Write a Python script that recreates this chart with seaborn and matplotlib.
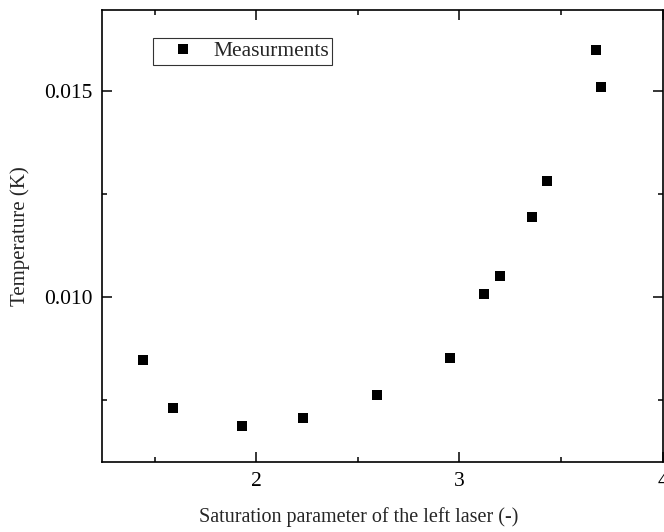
import matplotlib
matplotlib.use("Agg")
import matplotlib.pyplot as plt
from matplotlib.ticker import MultipleLocator, FormatStrFormatter
import seaborn as sns
import pandas as pd

saturation = [1.443, 1.591, 1.931, 2.232, 2.596, 2.956, 3.123, 3.202, 3.360, 3.433, 3.675, 3.695]
temperature = [0.008483, 0.007321, 0.006885, 0.007079, 0.007636, 0.008531,
               0.010080, 0.010515, 0.011943, 0.012815, 0.015985, 0.015089]
series_name = "Measurments"
x_label = "Saturation parameter of the left laser (-)"
y_label = "Temperature (K)"

df = pd.DataFrame({"x": saturation, "y": temperature, "series": series_name})

sns.set_style("white")
plt.rcParams["font.family"] = ["Liberation Serif", "DejaVu Serif"]

fig = plt.figure(figsize=(6.64, 5.32), dpi=100)
ax = fig.add_axes([102 / 664, 1 - 462 / 532, (662.5 - 102) / 664, (462 - 10) / 532])

sns.scatterplot(data=df, x="x", y="y", hue="series", palette=["black"],
                marker="s", s=52, edgecolor="black", linewidth=0, ax=ax)

ax.set_xlim(1.241, 4.0)
ax.set_ylim(0.006007, 0.016953)
ax.xaxis.set_major_locator(MultipleLocator(1))
ax.xaxis.set_minor_locator(MultipleLocator(0.5))
ax.yaxis.set_major_locator(MultipleLocator(0.005))
ax.yaxis.set_minor_locator(MultipleLocator(0.0025))
ax.yaxis.set_major_formatter(FormatStrFormatter("%.3f"))
ax.xaxis.set_major_formatter(FormatStrFormatter("%d"))

ax.tick_params(which="both", direction="in", top=True, right=True, bottom=True, left=True,
               labelsize=15.5, width=1.1, colors="black")
ax.tick_params(which="major", length=7, pad=7)
ax.tick_params(which="minor", length=3.5)
for sp in ax.spines.values():
    sp.set_visible(True)
    sp.set_linewidth(1.2)
    sp.set_color("black")

ax.set_xlabel(x_label, fontsize=14.5, labelpad=10)
ax.set_ylabel(y_label, fontsize=15, labelpad=10)
ax.xaxis.set_label_coords(0.4585, -0.1)

leg = ax.legend(loc="upper left", bbox_to_anchor=(0.091, 0.938), borderaxespad=0,
                fontsize=15.5, frameon=True, fancybox=False, borderpad=0.15,
                handlelength=2.5, handletextpad=0.15, markerscale=1.0, title=None)
leg.get_frame().set_edgecolor("black")
leg.get_frame().set_linewidth(0.8)

fig.savefig("out.png", dpi=100)
